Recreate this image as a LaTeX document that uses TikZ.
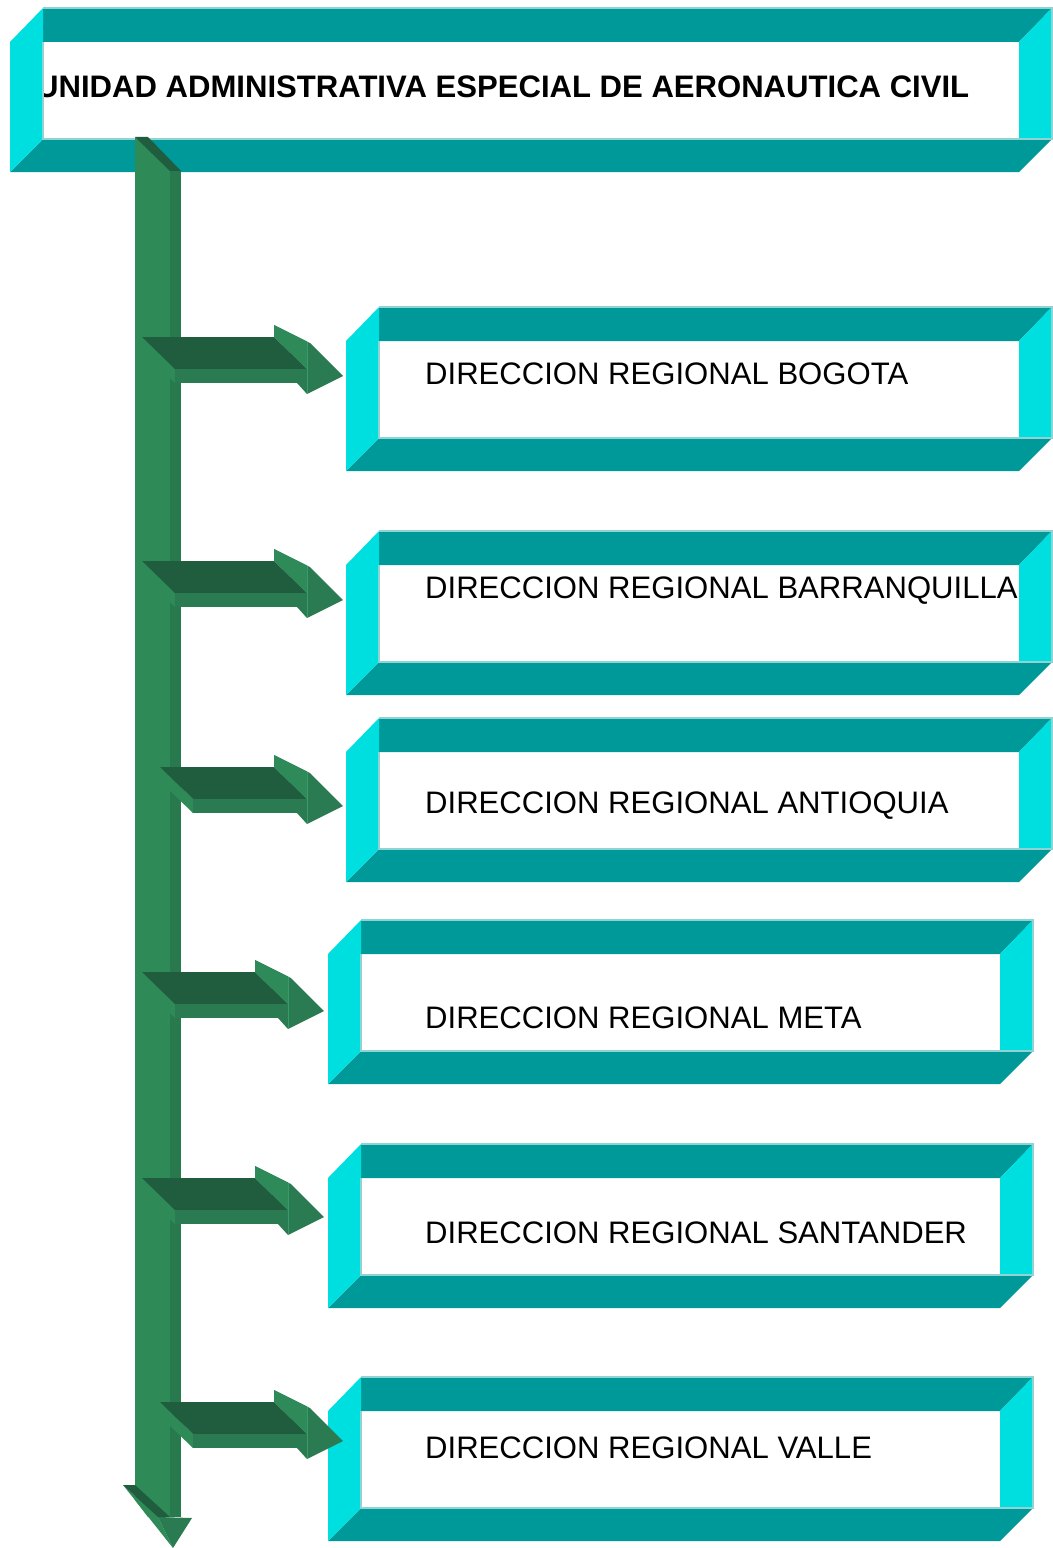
\documentclass[tikz,border=0pt]{standalone}
\usepackage{fontspec}
\setmainfont{Liberation Sans}
\definecolor{teal1}{HTML}{009999}
\definecolor{cyan1}{HTML}{00DFDF}
\definecolor{edge1}{HTML}{8FD3D3}
\definecolor{gfront}{HTML}{2E8B57}
\definecolor{gside}{HTML}{287A4E}
\definecolor{gdark}{HTML}{205C3E}
\definecolor{gmid}{HTML}{2A7B51}
\definecolor{glight}{HTML}{2F8A5A}
\definecolor{glighter}{HTML}{3A9A68}
% frame of a bevelled box: x0 y0 x1 y1
\newcommand\bevwhite[4]{\fill[white] ({#1+33},{#2+34}) rectangle ({#3-33},{#4-33});}
\newcommand\bevbands[4]{%
 \fill[teal1] ({#1+33},#2) -- (#3,#2) -- ({#3-33},{#2+34}) -- ({#1+33},{#2+34}) -- cycle;
 \fill[teal1] (#1,#4) -- ({#1+33},{#4-33}) -- (#3,{#4-33}) -- ({#3-33},#4) -- cycle;
 \fill[cyan1] (#1,{#2+34}) -- ({#1+33},#2) -- ({#1+33},{#4-33}) -- (#1,#4) -- cycle;
 \fill[cyan1] ({#3-33},{#2+34}) -- (#3,#2) -- (#3,{#4-33}) -- ({#3-33},{#4-33}) -- cycle;
 \draw[edge1,line width=1.2] ({#1+33},#2) -- (#3,#2) -- (#3,{#4-33}) -- ({#1+33},{#4-33}) -- ({#1+33},{#2+34});
}
% 3D arrow: L = left x, T = top y of shaft, R = x of back of head
\newcommand\harrowshape[3]{%
 \fill[gfront] (#1,#2) -- ({#1+33},{#2+32}) -- ({#1+33},{#2+46}) -- (#1,{#2+14}) -- cycle;
 \fill[gdark] (#1,#2) -- (#3,#2) -- ({#3+33},{#2+32}) -- ({#1+33},{#2+32}) -- cycle;
 \fill[gmid] ({#1+33},{#2+32}) rectangle ({#3+33},{#2+46});
 \fill[gmid] (#3,{#2-12}) -- ({#3+36},{#2+6}) -- ({#3+69},{#2+39}) -- ({#3+33},{#2+57}) -- ({#3+23},{#2+46}) -- ({#3+33},{#2+46}) -- ({#3+33},{#2+32}) -- (#3,#2) -- cycle;
 \fill[glight] (#3,{#2-12}) -- ({#3+33},{#2+4.5}) -- ({#3+33},{#2+32}) -- (#3,#2) -- cycle;
 \draw[glighter,line width=1] ({#3+33},{#2+4.5}) -- ({#3+33},{#2+57});
}
\tikzset{
 lbl/.style={anchor=base west,inner sep=0pt,font=\fontsize{31.2}{36}\selectfont},
 ttl/.style={anchor=base west,inner sep=0pt,font=\bfseries\fontsize{31.2}{36}\selectfont}
}
\begin{document}
\begin{tikzpicture}[x=1bp,y=-1bp]
\useasboundingbox[fill=white] (0,0) rectangle (1052,1548);
% title box
\bevwhite{10}{8}{1052}{172}
\node[ttl] (title) at (36,98) {UNIDAD ADMINISTRATIVA ESPECIAL DE AERONAUTICA CIVIL};
\bevbands{10}{8}{1052}{172}
% regional boxes
\bevwhite{346}{307}{1052}{471}
\node[lbl] (r1) at (425,384) {DIRECCION REGIONAL BOGOTA};
\bevbands{346}{307}{1052}{471}
\bevwhite{346}{531}{1052}{695}
\node[lbl] (r2) at (425,598) {DIRECCION REGIONAL BARRANQUILLA};
\bevbands{346}{531}{1052}{695}
\bevwhite{346}{718}{1052}{882}
\node[lbl] (r3) at (425,813) {DIRECCION REGIONAL ANTIOQUIA};
\bevbands{346}{718}{1052}{882}
\bevwhite{328}{920}{1033}{1084}
\node[lbl] (r4) at (425,1028) {DIRECCION REGIONAL META};
\bevbands{328}{920}{1033}{1084}
\bevwhite{328}{1144}{1033}{1308}
\node[lbl] (r5) at (425,1243) {DIRECCION REGIONAL SANTANDER};
\bevbands{328}{1144}{1033}{1308}
\bevwhite{328}{1377}{1033}{1541}
\node[lbl] (r6) at (425,1458) {DIRECCION REGIONAL VALLE};
\bevbands{328}{1377}{1033}{1541}
% vertical bar
\fill[gfront] (135,137) -- (170,171) -- (170,1517) -- (148,1517) -- (135,1500) -- cycle;
\fill[gdark] (135,137) -- (148,137) -- (181,171) -- (170,171) -- cycle;
\fill[gside] (170,171) rectangle (181,1517);
\fill[gfront] (123,1485) -- (158,1517) -- (173,1548) -- cycle;
\fill[gmid] (158,1517) -- (192,1518) -- (173,1548) -- cycle;
\fill[gdark] (123,1485) -- (135,1485) -- (170,1517) -- (158,1517) -- cycle;
% arrows
\harrowshape{142}{337}{274}
\harrowshape{142}{561}{274}
\harrowshape{160}{767}{274}
\harrowshape{142}{972}{255}
\harrowshape{142}{1178}{255}
\harrowshape{160}{1402}{274}
\end{tikzpicture}
\end{document}
